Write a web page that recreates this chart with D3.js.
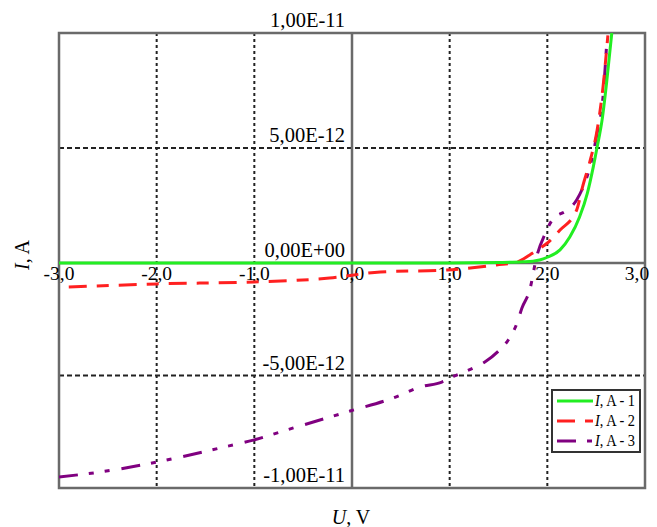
<!DOCTYPE html>
<html>
<head>
<meta charset="utf-8">
<script src="https://cdn.jsdelivr.net/npm/d3@7"></script>
<style>
  html, body { margin: 0; padding: 0; background: #fff; }
  svg { display: block; }
  text { font-family: "Liberation Serif", "Times New Roman", serif; fill: #000; }
</style>
</head>
<body>
<svg id="chart" width="657" height="527"></svg>
<script>
// Current–voltage characteristics of three samples (U in V, I in A)
const voltage1 = [-3.0, -2.0, -1.0, 0.0, 1.0, 1.5, 1.75, 1.85, 1.92, 2.0, 2.13, 2.23, 2.33, 2.41, 2.47, 2.51, 2.56, 2.61, 2.66];
const current1 = [0, 0, 0, 0, 0, 0.02e-12, 0.05e-12, 0.08e-12, 0.13e-12, 0.25e-12, 0.57e-12, 1.13e-12, 2.0e-12, 3.04e-12, 4.17e-12, 5.04e-12, 6.2e-12, 7.96e-12, 10.0e-12];

const voltage2 = [-2.9, -2.0, -1.0, -0.23, 0.29, 0.97, 1.48, 1.69, 1.82, 1.9, 2.0, 2.13, 2.3, 2.36, 2.44, 2.51, 2.57, 2.62];
const current2 = [-1.07e-12, -0.93e-12, -0.84e-12, -0.67e-12, -0.4e-12, -0.31e-12, -0.09e-12, 0.04e-12, 0.35e-12, 0.57e-12, 0.87e-12, 1.43e-12, 2.3e-12, 3.3e-12, 4.48e-12, 5.78e-12, 7.65e-12, 9.9e-12];

const voltage3 = [-3.0, -2.58, -1.99, -1.35, -1.01, -0.6, -0.02, 0.42, 0.7, 0.92, 1.05, 1.24, 1.36, 1.51, 1.6, 1.69, 1.74, 1.82, 1.89, 1.98, 2.05, 2.2, 2.3, 2.47, 2.51, 2.57, 2.61];
const current3 = [-9.51e-12, -9.29e-12, -8.84e-12, -8.22e-12, -7.87e-12, -7.33e-12, -6.58e-12, -6.0e-12, -5.51e-12, -5.29e-12, -5.02e-12, -4.67e-12, -4.4e-12, -3.87e-12, -3.42e-12, -2.67e-12, -2.0e-12, -1.2e-12, 0.26e-12, 1.3e-12, 1.87e-12, 2.3e-12, 2.74e-12, 4.78e-12, 5.65e-12, 7.22e-12, 9.7e-12];

const seriesNames = ["A - 1", "A - 2", "A - 3"];
const seriesColors = ["#22ee22", "#ff2020", "#800080"];
const seriesDash = [null, "18,10,12,10", "19,11,5,11,5,12"];

const xTicks = [-3, -2, -1, 0, 1, 2, 3];
const xTickLabels = ["-3,0", "-2,0", "-1,0", "0,0", "1,0", "2,0", "3,0"];
const yTicks = [1e-11, 5e-12, 0, -5e-12, -1e-11];
const yTickLabels = ["1,00E-11", "5,00E-12", "0,00E+00", "-5,00E-12", "-1,00E-11"];

const svg = d3.select("#chart");
const plotLeft = 59, plotRight = 645, plotTop = 33, plotBottom = 488;

const x = d3.scaleLinear().domain([-3, 3]).range([plotLeft, plotRight]);
const y = d3.scaleLinear().domain([-1e-11, 0, 1e-11]).range([plotBottom, 263, plotTop]);

// dashed grid
svg.append("g").selectAll("line")
  .data(xTicks.filter(d => d !== 0 && d !== -3 && d !== 3))
  .join("line")
  .attr("x1", d => x(d)).attr("x2", d => x(d))
  .attr("y1", plotTop).attr("y2", plotBottom)
  .attr("stroke", "#222").attr("stroke-width", 2)
  .attr("stroke-dasharray", "3,3");

svg.append("g").selectAll("line")
  .data(yTicks.filter(d => d !== 0 && Math.abs(d) < 1e-11))
  .join("line")
  .attr("x1", plotLeft).attr("x2", plotRight)
  .attr("y1", d => y(d)).attr("y2", d => y(d))
  .attr("stroke", "#222").attr("stroke-width", 2)
  .attr("stroke-dasharray", "5,3");

// zero axes
svg.append("line")
  .attr("x1", x(0)).attr("x2", x(0)).attr("y1", plotTop).attr("y2", plotBottom)
  .attr("stroke", "#6a6a6a").attr("stroke-width", 2.5);
svg.append("line")
  .attr("x1", plotLeft).attr("x2", plotRight).attr("y1", y(0)).attr("y2", y(0))
  .attr("stroke", "#6a6a6a").attr("stroke-width", 2.5);

// frame
svg.append("rect")
  .attr("x", plotLeft).attr("y", plotTop)
  .attr("width", plotRight - plotLeft).attr("height", plotBottom - plotTop)
  .attr("fill", "none").attr("stroke", "#6a6a6a").attr("stroke-width", 2.5);

// tick labels on the zero axes
svg.append("g").selectAll("text")
  .data(xTicks)
  .join("text")
  .attr("x", d => Math.min(x(d), 637))
  .attr("y", 280)
  .attr("text-anchor", "middle")
  .attr("font-size", 19.5)
  .text((d, i) => xTickLabels[i]);

svg.append("g").selectAll("text")
  .data(yTicks)
  .join("text")
  .attr("x", 345)
  .attr("y", d => y(d) - 6)
  .attr("text-anchor", "end")
  .attr("font-size", 20.5)
  .text((d, i) => yTickLabels[i]);

// axis titles
const xt = svg.append("text")
  .attr("x", 351).attr("y", 524)
  .attr("text-anchor", "middle").attr("font-size", 20);
xt.append("tspan").attr("font-style", "italic").text("U");
xt.append("tspan").text(", V");

const yt = svg.append("text")
  .attr("transform", "translate(29,255) rotate(-90)")
  .attr("text-anchor", "middle").attr("font-size", 20);
yt.append("tspan").attr("font-style", "italic").text("I");
yt.append("tspan").text(", A");

// curves
svg.append("clipPath").attr("id", "plot-clip")
  .append("rect").attr("x", plotLeft).attr("y", plotTop)
  .attr("width", plotRight - plotLeft).attr("height", plotBottom - plotTop);

const series = [
  voltage1.map((u, i) => [u, current1[i]]),
  voltage2.map((u, i) => [u, current2[i]]),
  voltage3.map((u, i) => [u, current3[i]])
];

const line = d3.line()
  .x(d => x(d[0]))
  .y(d => y(d[1]))
  .curve(d3.curveMonotoneX);

const curves = svg.append("g").attr("clip-path", "url(#plot-clip)");
// purple first, then red, then green on top
[2, 1, 0].forEach(k => {
  curves.append("path")
    .datum(series[k])
    .attr("d", line)
    .attr("fill", "none")
    .attr("stroke", seriesColors[k])
    .attr("stroke-width", 3)
    .attr("stroke-dasharray", seriesDash[k]);
});

// legend
const lg = svg.append("g");
lg.append("rect")
  .attr("x", 552).attr("y", 390).attr("width", 88).attr("height", 62)
  .attr("fill", "#fff").attr("stroke", "#333").attr("stroke-width", 2);
seriesNames.forEach((name, i) => {
  const ly = 401 + i * 20;
  lg.append("line")
    .attr("x1", 557).attr("x2", 593).attr("y1", ly).attr("y2", ly)
    .attr("stroke", seriesColors[i]).attr("stroke-width", 3)
    .attr("stroke-dasharray", seriesDash[i]);
  const t = lg.append("text")
    .attr("x", 595).attr("y", ly + 5)
    .attr("font-size", 16)
    .attr("textLength", 40).attr("lengthAdjust", "spacingAndGlyphs");
  t.append("tspan").attr("font-style", "italic").text("I");
  t.append("tspan").text(", " + name);
});
</script>
</body>
</html>
